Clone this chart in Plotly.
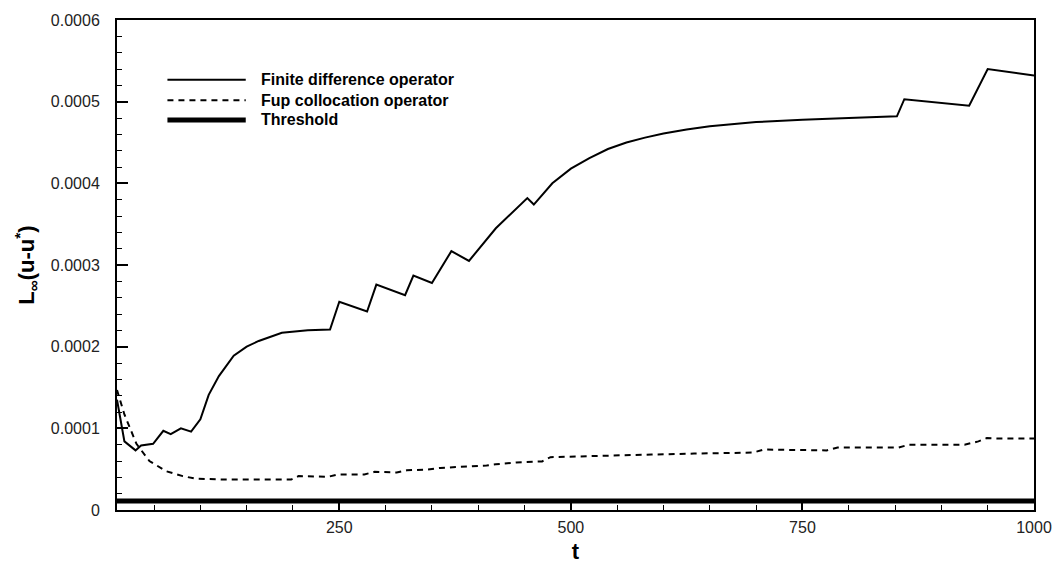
import numpy as np
import plotly.graph_objects as go

SCALE = 1e-4  # values below are read in units of 1e-4

# Finite difference operator
t_fd = [10, 18, 30, 36, 49, 60, 68, 79, 90, 100, 109, 120, 136, 150, 163, 188,
        216, 240, 250, 280, 290, 321, 330, 350, 371, 390, 419, 440, 453, 460,
        480, 500, 520, 540, 560, 580, 600, 625, 650, 700, 750, 800, 852, 860,
        930, 950, 1000]
err_fd = [1.35, 0.84, 0.73, 0.79, 0.81, 0.97, 0.93, 1.00, 0.96, 1.11, 1.41, 1.64,
          1.89, 2.00, 2.07, 2.17, 2.20, 2.21, 2.55, 2.43, 2.76, 2.63, 2.87, 2.78,
          3.17, 3.05, 3.45, 3.68, 3.82, 3.74, 4.00, 4.18, 4.31, 4.42, 4.50, 4.56,
          4.61, 4.66, 4.70, 4.75, 4.78, 4.80, 4.82, 5.03, 4.95, 5.40, 5.32]

# Fup collocation operator
t_fup = [10, 18, 31, 45, 63, 81, 95, 120, 155, 198, 206, 238, 248, 277, 288, 312,
         323, 345, 359, 380, 395, 409, 419, 441, 469, 478, 505, 548, 587, 633,
         697, 708, 776, 788, 854, 865, 925, 940, 949, 961, 1000]
err_fup = [1.47, 1.17, 0.81, 0.60, 0.475, 0.415, 0.383, 0.375, 0.375, 0.372, 0.415,
           0.407, 0.435, 0.435, 0.467, 0.46, 0.487, 0.495, 0.515, 0.527, 0.543,
           0.545, 0.56, 0.583, 0.595, 0.647, 0.655, 0.671, 0.679, 0.691, 0.703,
           0.74, 0.73, 0.766, 0.766, 0.80, 0.80, 0.84, 0.88, 0.875, 0.875]

# Threshold
t_thr = [10, 1000]
err_thr = [0.11, 0.11]

legend_names = ["Finite difference operator", "Fup collocation operator", "Threshold"]

FONT = "Liberation Sans, Arial, sans-serif"

fig = go.Figure()
fig.add_trace(go.Scatter(x=t_thr, y=np.array(err_thr) * SCALE, mode="lines",
                         line=dict(color="black", width=5), name=legend_names[2]))
fig.add_trace(go.Scatter(x=t_fup, y=np.array(err_fup) * SCALE, mode="lines",
                         line=dict(color="black", width=2, dash="6px,5px"),
                         name=legend_names[1]))
fig.add_trace(go.Scatter(x=t_fd, y=np.array(err_fd) * SCALE, mode="lines",
                         line=dict(color="black", width=2), name=legend_names[0]))

# hand-drawn legend (long line samples like the original)
rows = [0.878, 0.836, 0.796]
styles = [dict(width=2), dict(width=2, dash="6px,5px"), dict(width=5)]
for name, yy, st in zip(legend_names, rows, styles):
    fig.add_shape(type="line", xref="paper", yref="paper", x0=0.055, x1=0.1404,
                  y0=yy, y1=yy, line=dict(color="black", **st))
    fig.add_annotation(xref="paper", yref="paper", x=0.1544, y=yy, text=f"<b>{name}</b>",
                       showarrow=False, xanchor="left", yanchor="middle",
                       font=dict(size=16, color="black"))

axis_common = dict(
    showgrid=False, zeroline=False, showline=True, linecolor="black", linewidth=2,
    mirror=True, ticks="inside", ticklen=11, tickwidth=2, tickcolor="black",
    tickfont=dict(size=16, color="#222"),
)

fig.update_layout(
    width=1064, height=572, autosize=False,
    margin=dict(l=117, r=21, t=17, b=54),
    plot_bgcolor="white", paper_bgcolor="white",
    font=dict(family=FONT, color="black"),
    showlegend=False,
    xaxis=dict(
        **axis_common, range=[10, 1000], tick0=0, dtick=250, ticklabelstandoff=2,
        minor=dict(ticks="inside", ticklen=5, tickwidth=1, tickcolor="black", dtick=50),
        title=dict(text="<b>t</b>", font=dict(size=22), standoff=8),
    ),
    yaxis=dict(
        **axis_common, range=[0, 0.0006], tick0=0, dtick=0.0001, tickformat=".4~f",
        ticklabelstandoff=12,
        minor=dict(ticks="inside", ticklen=5, tickwidth=1, tickcolor="black", dtick=0.00002),
        title=dict(text="<b>L<sub>∞</sub>(u-u<sup>*</sup>)</b>", font=dict(size=22), standoff=10),
    ),
)

# the page's default body margin would shift the figure by 8px
fig.write_html("out.html", config={"displayModeBar": False},
               post_script="document.body.style.margin='0';")
